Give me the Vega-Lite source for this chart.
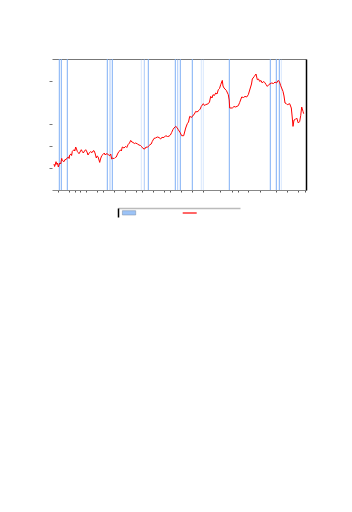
{
  "$schema": "https://vega.github.io/schema/vega-lite/v6.json",
  "background": "white",
  "padding": {"left": 48, "top": 58, "right": 5, "bottom": 5},
  "config": {"view": {"stroke": null}},
  "center": true,
  "spacing": 15,
  "datasets": {
    "bands": [
      {"pos": 7.3, "level": 3}, {"pos": 9.3, "level": 3}, {"pos": 15.3, "level": 3},
      {"pos": 55.3, "level": 3}, {"pos": 58, "level": 2}, {"pos": 60.3, "level": 3},
      {"pos": 89.3, "level": 1}, {"pos": 92.3, "level": 2}, {"pos": 96.3, "level": 3},
      {"pos": 123.3, "level": 3}, {"pos": 125.7, "level": 2}, {"pos": 128.3, "level": 3},
      {"pos": 140.3, "level": 3}, {"pos": 149.3, "level": 1}, {"pos": 151.3, "level": 1},
      {"pos": 177.3, "level": 3}, {"pos": 218.3, "level": 3}, {"pos": 224.3, "level": 3},
      {"pos": 227.3, "level": 3}, {"pos": 229.3, "level": 1}
    ],
    "series": [
      {"t": 2, "v": 26}, {"t": 2.6, "v": 23.5}, {"t": 3, "v": 24.5}, {"t": 4, "v": 28.3}, {"t": 5, "v": 25.5}, {"t": 5.6, "v": 27}, {"t": 6.3, "v": 23},
      {"t": 7.7, "v": 27}, {"t": 8.7, "v": 26}, {"t": 9.7, "v": 31.6}, {"t": 10.3, "v": 29.5}, {"t": 11, "v": 29}, {"t": 12, "v": 28.3},
      {"t": 13, "v": 30.5}, {"t": 14, "v": 30.3}, {"t": 15.3, "v": 32.3}, {"t": 16.5, "v": 33}, {"t": 17.1, "v": 31.5}, {"t": 17.7, "v": 35},
      {"t": 19, "v": 36}, {"t": 19.6, "v": 34.5}, {"t": 20.3, "v": 38.6}, {"t": 22, "v": 40.3}, {"t": 22.8, "v": 39}, {"t": 23.7, "v": 43}, {"t": 24.5, "v": 41},
      {"t": 25.3, "v": 38.6}, {"t": 26.2, "v": 37.5}, {"t": 27, "v": 36.3}, {"t": 28, "v": 38}, {"t": 29.3, "v": 40.3}, {"t": 30.3, "v": 38.5}, {"t": 31.3, "v": 37},
      {"t": 32.5, "v": 39}, {"t": 33.7, "v": 40.3}, {"t": 35, "v": 38}, {"t": 36, "v": 35}, {"t": 37.5, "v": 37.5},
      {"t": 38.7, "v": 38.3}, {"t": 40, "v": 37.3}, {"t": 41, "v": 39}, {"t": 42, "v": 39.3}, {"t": 43, "v": 37}, {"t": 44.3, "v": 32},
      {"t": 45.2, "v": 34}, {"t": 46, "v": 33.3}, {"t": 47, "v": 30}, {"t": 47.7, "v": 27.6}, {"t": 48.5, "v": 31}, {"t": 49.7, "v": 34.3}, {"t": 51, "v": 35.5},
      {"t": 52.3, "v": 37}, {"t": 53.2, "v": 35}, {"t": 54, "v": 36}, {"t": 55.3, "v": 36.3}, {"t": 56.5, "v": 35}, {"t": 57.7, "v": 34.3}, {"t": 58.7, "v": 36},
      {"t": 59.7, "v": 31}, {"t": 60.8, "v": 32}, {"t": 62, "v": 31.3}, {"t": 63.2, "v": 32.5}, {"t": 64.3, "v": 33}, {"t": 65.5, "v": 36}, {"t": 67, "v": 38.6},
      {"t": 68.5, "v": 40}, {"t": 69.3, "v": 39}, {"t": 70.3, "v": 43}, {"t": 72, "v": 42}, {"t": 73.7, "v": 43.6}, {"t": 74.8, "v": 42.5}, {"t": 76, "v": 45.3},
      {"t": 77.5, "v": 47}, {"t": 78.7, "v": 49.6}, {"t": 79.8, "v": 48}, {"t": 81, "v": 47.6}, {"t": 82.3, "v": 46.5}, {"t": 83.7, "v": 47}, {"t": 85.5, "v": 46},
      {"t": 87, "v": 45}, {"t": 88.5, "v": 44.5}, {"t": 89.7, "v": 43.3}, {"t": 91, "v": 41.5}, {"t": 92.7, "v": 41},
      {"t": 94, "v": 43}, {"t": 95.3, "v": 42.6}, {"t": 96.6, "v": 44}, {"t": 98, "v": 45.3}, {"t": 99.2, "v": 46}, {"t": 100.3, "v": 48.6}, {"t": 102, "v": 51.6}, {"t": 103.5, "v": 52},
      {"t": 105.3, "v": 53}, {"t": 107, "v": 52.5}, {"t": 108.7, "v": 51}, {"t": 110, "v": 52.8}, {"t": 111, "v": 52.3}, {"t": 112.5, "v": 53},
      {"t": 113.7, "v": 54.3}, {"t": 115.5, "v": 53.5}, {"t": 117, "v": 53.8}, {"t": 118.4, "v": 55}, {"t": 119.7, "v": 57.6}, {"t": 121, "v": 60.5}, {"t": 122, "v": 62},
      {"t": 123.7, "v": 63.6}, {"t": 125, "v": 62.5}, {"t": 126.3, "v": 60.3}, {"t": 128, "v": 57.6}, {"t": 129.7, "v": 54.3},
      {"t": 131.7, "v": 54.3}, {"t": 133.7, "v": 62}, {"t": 135.3, "v": 66.3}, {"t": 136.5, "v": 68}, {"t": 137.7, "v": 73.6},
      {"t": 139.7, "v": 72.6}, {"t": 140.8, "v": 74.5}, {"t": 142, "v": 75.3}, {"t": 143.7, "v": 78.6}, {"t": 145, "v": 78}, {"t": 147, "v": 79.6},
      {"t": 148.2, "v": 81}, {"t": 149.3, "v": 83.6}, {"t": 151.3, "v": 86.3}, {"t": 152.5, "v": 84.5}, {"t": 153.7, "v": 85.3}, {"t": 156.3, "v": 86.3}, {"t": 157.5, "v": 88},
      {"t": 158.7, "v": 93.6}, {"t": 160, "v": 92}, {"t": 161, "v": 95.3}, {"t": 162.4, "v": 94.5}, {"t": 163.7, "v": 97}, {"t": 165, "v": 96}, {"t": 166.3, "v": 100.3},
      {"t": 167.5, "v": 101.5}, {"t": 168.7, "v": 105.3}, {"t": 170.3, "v": 109.6}, {"t": 171, "v": 104}, {"t": 172, "v": 102}, {"t": 174.3, "v": 99.6},
      {"t": 176.3, "v": 95.3}, {"t": 177.2, "v": 90}, {"t": 177.7, "v": 82}, {"t": 180.3, "v": 82}, {"t": 182, "v": 83.5},
      {"t": 183.7, "v": 83}, {"t": 186.3, "v": 84.3}, {"t": 187.7, "v": 87.6}, {"t": 189.7, "v": 93}, {"t": 191.5, "v": 92.5},
      {"t": 193, "v": 93.6}, {"t": 194.7, "v": 93}, {"t": 196.3, "v": 95.3}, {"t": 198, "v": 101}, {"t": 199.5, "v": 106}, {"t": 200.3, "v": 111},
      {"t": 202.3, "v": 113.6}, {"t": 204, "v": 116}, {"t": 205.3, "v": 110.3}, {"t": 206.5, "v": 111}, {"t": 207.7, "v": 108.6}, {"t": 209, "v": 109.5},
      {"t": 210.3, "v": 107}, {"t": 211.5, "v": 108.5}, {"t": 212.7, "v": 107.6}, {"t": 214, "v": 105.5}, {"t": 215.3, "v": 103.6}, {"t": 217, "v": 105.6}, {"t": 219.7, "v": 107},
      {"t": 221.5, "v": 106.5}, {"t": 223, "v": 108}, {"t": 224.5, "v": 107}, {"t": 226.3, "v": 109.6}, {"t": 227.5, "v": 108},
      {"t": 228.7, "v": 104.3}, {"t": 231, "v": 98.6}, {"t": 232, "v": 94}, {"t": 233, "v": 87}, {"t": 234.2, "v": 86.5}, {"t": 235.3, "v": 85.3},
      {"t": 237.7, "v": 86.3}, {"t": 239.3, "v": 82}, {"t": 240.3, "v": 72}, {"t": 241, "v": 63.6}, {"t": 242, "v": 70},
      {"t": 243, "v": 70.3}, {"t": 244.7, "v": 72}, {"t": 246.3, "v": 67}, {"t": 247.7, "v": 68.6}, {"t": 248.7, "v": 74.3},
      {"t": 249.7, "v": 83}, {"t": 251, "v": 78.6}, {"t": 251.7, "v": 76.3}
    ],
    "legendItems": [
      {"item": "band", "a": 4.4, "b": 17.7, "lo": 2, "hi": 6.3},
      {"item": "line", "a": 64.7, "b": 78.7, "lo": 4, "hi": 4}
    ]
  },
  "vconcat": [
    {
      "width": 254,
      "height": 131,
      "layer": [
        {
          "data": {"name": "bands"},
          "mark": {"type": "rule", "color": "#7eaef5", "strokeWidth": 1},
          "encoding": {
            "x": {
              "field": "pos", "type": "quantitative",
              "scale": {"domain": [0, 254], "nice": false, "zero": false},
              "axis": {
                "orient": "bottom", "title": null, "labels": false, "grid": false,
                "domainColor": "#888888", "domainWidth": 1,
                "tickColor": "#555555", "tickSize": 2,
                "values": [6.3, 17, 22.7, 28, 34.3, 45.3, 51, 62.3, 73.3, 84.3, 90.3, 101.3, 112.3, 118, 129, 140.3, 151.3, 168.3, 179.7, 185.7, 196.3, 207.7, 224.3, 235.3, 246.3, 252.7]
              }
            },
            "opacity": {
              "field": "level", "type": "quantitative",
              "scale": {"domain": [1, 3], "range": [0.3, 1]},
              "legend": null
            }
          }
        },
        {
          "data": {"name": "series"},
          "mark": {"type": "line", "color": "#ff0000", "strokeWidth": 1, "interpolate": "linear"},
          "encoding": {
            "x": {
              "field": "t", "type": "quantitative",
              "scale": {"domain": [0, 254], "nice": false, "zero": false},
              "axis": {
                "orient": "top", "title": null, "labels": false, "ticks": false, "grid": false,
                "domainColor": "#777777", "domainWidth": 1
              }
            },
            "y": {
              "field": "v", "type": "quantitative",
              "scale": {"domain": [0, 131], "nice": false, "zero": false},
              "axis": {
                "orient": "left", "title": null, "labels": false, "grid": false,
                "domain": false, "tickColor": "#777777", "tickSize": 3,
                "values": [22, 44, 66, 109]
              }
            }
          }
        },
        {
          "data": {"name": "series"},
          "mark": {"type": "line", "opacity": 0},
          "encoding": {
            "y": {
              "field": "v", "type": "quantitative",
              "scale": {"domain": [0, 131], "nice": false, "zero": false},
              "axis": {
                "orient": "right", "title": null, "labels": false, "ticks": false, "grid": false,
                "domainColor": "#000000", "domainWidth": 1.5
              }
            },
            "x": {
              "field": "t", "type": "quantitative",
              "scale": {"domain": [0, 254], "nice": false, "zero": false},
              "axis": null
            }
          }
        }
      ],
      "resolve": {"axis": {"x": "independent", "y": "independent"}}
    },
    {
      "width": 122,
      "height": 9,
      "data": {"name": "legendItems"},
      "layer": [
        {
          "transform": [{"filter": "datum.item === 'band'"}],
          "mark": {"type": "rect", "color": "#9cc3f7", "stroke": "#7a8aa0", "strokeWidth": 0.5},
          "encoding": {
            "x": {"field": "a", "type": "quantitative", "scale": {"domain": [0, 122], "nice": false, "zero": false},
                  "axis": {"orient": "top", "title": null, "labels": false, "ticks": false, "grid": false, "domainColor": "#bbbbbb", "domainWidth": 1.5}},
            "x2": {"field": "b"},
            "y": {"field": "lo", "type": "quantitative", "scale": {"domain": [0, 9], "nice": false, "zero": false},
                  "axis": {"orient": "left", "title": null, "labels": false, "ticks": false, "grid": false, "domainColor": "#000000", "domainWidth": 1.5}},
            "y2": {"field": "hi"}
          }
        },
        {
          "transform": [{"filter": "datum.item === 'line'"}],
          "mark": {"type": "rule", "color": "#ff0000", "strokeWidth": 1.2},
          "encoding": {
            "x": {"field": "a", "type": "quantitative"},
            "x2": {"field": "b"},
            "y": {"field": "lo", "type": "quantitative"}
          }
        }
      ]
    }
  ]
}
